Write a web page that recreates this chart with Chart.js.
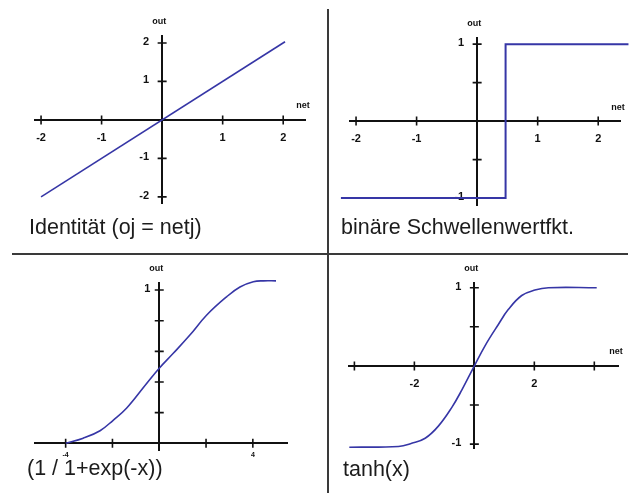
<!DOCTYPE html>
<html>
<head>
<meta charset="utf-8">
<script src="https://cdn.jsdelivr.net/npm/chart.js@4.4.1/dist/chart.umd.min.js"></script>
<style>
  body { margin: 0; background: #fff; }
  #page { position: relative; width: 631px; height: 493px; overflow: hidden; background: #fff; }
  canvas { position: absolute; }
  .caption {
    position: absolute;
    font-family: "Liberation Sans", Arial, sans-serif;
    font-size: 21.5px;
    line-height: 1;
    color: #1c1c1c;
    white-space: nowrap;
  }
  .rule { position: absolute; background: #3a3a3a; }
</style>
</head>
<body>
<div id="page">
  <canvas id="c1" width="328" height="253" style="left:0;top:0"></canvas>
  <canvas id="c2" width="303" height="253" style="left:328px;top:0"></canvas>
  <canvas id="c3" width="328" height="240" style="left:0;top:253px"></canvas>
  <canvas id="c4" width="303" height="240" style="left:328px;top:253px"></canvas>

  <div class="rule" style="left:327px;top:9px;width:2px;height:484px"></div>
  <div class="rule" style="left:12px;top:253px;width:616px;height:2px"></div>

  <div class="caption" style="left:29px;top:217px">Identität (oj = netj)</div>
  <div class="caption" style="left:341px;top:217px">binäre Schwellenwertfkt.</div>
  <div class="caption" style="left:27px;top:458px">(1 / 1+exp(-x))</div>
  <div class="caption" style="left:343px;top:459px">tanh(x)</div>
</div>

<script>
// Identity: out = net
const identNet = [-2, 2.03];
const identOut = [-2, 2.03];

// binary threshold
const stepNet = [-2.25, 0.47, 0.47, 2.5];
const stepOut = [-1, -1, 1, 1];

// logistic curve
const sigNet = [-3.99, -3.25, -2.53, -1.97, -1.4, -0.54, 0, 0.6, 1.31, 2.03, 2.88, 3.45, 4.02, 4.45, 4.99];
const sigOut = [0, 0.033, 0.082, 0.15, 0.228, 0.39, 0.49, 0.587, 0.706, 0.837, 0.956, 1.02, 1.054, 1.06, 1.06];

// tanh curve
const tanhNet = [-4.17, -2.53, -2.09, -1.64, -1.2, -0.75, -0.42, 0, 0.36, 0.8, 1.13, 1.58, 2.02, 2.47, 4.08];
const tanhOut = [-1.04, -1.03, -0.99, -0.925, -0.77, -0.53, -0.31, 0, 0.26, 0.53, 0.72, 0.9, 0.97, 1.0, 1.0];

// tick positions and which of them get a number
const ticks1X = [-2, -1, 0, 1, 2];
const labels1X = [-2, -1, 1, 2];
const ticks1Y = [-2, -1, 1, 2];
const labels1Y = [2, 1, -1, -2];

const ticks2X = [-2, -1, 0, 1, 2];
const labels2X = [-2, -1, 1, 2];
const ticks2Y = [-1, -0.5, 0.5, 1];
const labels2Y = [1, -1];

const ticks3X = [-4, -2, 0, 2, 4];
const labels3X = [-4, 4];
const ticks3Y = [0.2, 0.4, 0.6, 0.8, 1];
const labels3Y = [1];

const ticks4X = [-4, -2, 0, 2, 4];
const labels4X = [-2, 2];
const ticks4Y = [-1, -0.5, 0.5, 1];
const labels4Y = [1, -1];

const FONT = '"Liberation Sans", Arial, sans-serif';
const LINE_BLUE = '#3636a6';
const INK = '#111';

function toPoints(xs, ys) {
    return xs.map((x, i) => ({ x: x, y: ys[i] }));
}

// cross shaped tick marks, y-axis numbers and the "out" / "net" axis names
const axisMarks = {
    id: 'axisMarks',
    beforeDatasetsDraw(chart, args, opts) {
        const ctx = chart.ctx;
        const xs = chart.scales.x;
        const ys = chart.scales.y;
        const ox = xs.getPixelForValue(0);
        const oy = ys.getPixelForValue(0);

        ctx.save();
        ctx.strokeStyle = INK;
        ctx.lineWidth = 1.6;
        ctx.beginPath();
        opts.xTicks.forEach(v => {
            if (v === 0) return;
            const px = xs.getPixelForValue(v);
            ctx.moveTo(px, oy - 4.5);
            ctx.lineTo(px, oy + 4.5);
        });
        opts.yTicks.forEach(v => {
            const py = ys.getPixelForValue(v);
            ctx.moveTo(ox - 4.5, py);
            ctx.lineTo(ox + 4.5, py);
        });
        ctx.stroke();

        ctx.fillStyle = INK;
        ctx.font = 'bold 11px ' + FONT;
        ctx.textAlign = 'right';
        ctx.textBaseline = 'middle';
        opts.yLabels.forEach(v => {
            ctx.fillText(String(v), ox - opts.yGap, ys.getPixelForValue(v) - 1);
        });

        ctx.font = 'bold 9px ' + FONT;
        ctx.textAlign = 'center';
        ctx.fillText('out', ox - 3, chart.chartArea.top - 14);
        if (opts.net) {
            ctx.fillText('net', chart.chartArea.right - 2, oy - 14);
        }
        ctx.restore();
    }
};

function makePanel(id, p) {
    const ctx = document.getElementById(id).getContext('2d');
    return new Chart(ctx, {
        type: 'scatter',
        data: {
            datasets: [{
                data: toPoints(p.net, p.out),
                showLine: true,
                borderColor: LINE_BLUE,
                borderWidth: p.lineWidth,
                pointRadius: 0,
                tension: p.smooth ? 0.4 : 0,
                clip: false
            }]
        },
        options: {
            responsive: false,
            animation: false,
            devicePixelRatio: 1,
            layout: { padding: p.padding },
            plugins: {
                legend: { display: false },
                tooltip: { enabled: false },
                axisMarks: {
                    xTicks: p.xTicks,
                    yTicks: p.yTicks,
                    yLabels: p.yLabels,
                    yGap: p.yGap,
                    net: p.net_label
                }
            },
            scales: {
                x: {
                    type: 'linear',
                    min: p.xMin,
                    max: p.xMax,
                    position: { y: 0 },
                    grid: { display: false, drawTicks: false },
                    border: { display: true, color: INK, width: 2 },
                    afterBuildTicks: s => { s.ticks = p.xTicks.map(v => ({ value: v })); },
                    ticks: {
                        autoSkip: false,
                        maxRotation: 0,
                        padding: p.xPad,
                        color: INK,
                        font: { family: FONT, size: p.xFont, weight: 'bold' },
                        callback: v => p.xLabels.includes(v) ? String(v) : ''
                    }
                },
                y: {
                    type: 'linear',
                    min: p.yMin,
                    max: p.yMax,
                    position: { x: 0 },
                    grid: { display: false, drawTicks: false },
                    border: { display: true, color: INK, width: 2 },
                    ticks: { display: false }
                }
            }
        },
        plugins: [axisMarks]
    });
}

makePanel('c1', {
    net: identNet, out: identOut, lineWidth: 1.6, smooth: false,
    padding: { left: 35, right: 23, top: 36, bottom: 50 },
    xMin: -2.1, xMax: 2.36, yMin: -2.16, yMax: 2.18,
    xTicks: ticks1X, xLabels: labels1X, yTicks: ticks1Y, yLabels: labels1Y,
    xFont: 11, xPad: 11, yGap: 13, net_label: true
});

makePanel('c2', {
    net: stepNet, out: stepOut, lineWidth: 2, smooth: false,
    padding: { left: 22, right: 11, top: 38, bottom: 48 },
    xMin: -2.1, xMax: 2.36, yMin: -1.09, yMax: 1.08,
    xTicks: ticks2X, xLabels: labels2X, yTicks: ticks2Y, yLabels: labels2Y,
    xFont: 11, xPad: 11, yGap: 13, net_label: true
});

makePanel('c3', {
    net: sigNet, out: sigOut, lineWidth: 1.6, smooth: true,
    padding: { left: 35, right: 41, top: 30, bottom: 43 },
    xMin: -5.31, xMax: 5.46, yMin: -0.044, yMax: 1.046,
    xTicks: ticks3X, xLabels: labels3X, yTicks: ticks3Y, yLabels: labels3Y,
    xFont: 7, xPad: 8, yGap: 9, net_label: false
});

makePanel('c4', {
    net: tanhNet, out: tanhOut, lineWidth: 1.6, smooth: true,
    padding: { left: 21, right: 13, top: 30, bottom: 45 },
    xMin: -4.18, xMax: 4.79, yMin: -1.05, yMax: 1.06,
    xTicks: ticks4X, xLabels: labels4X, yTicks: ticks4Y, yLabels: labels4Y,
    xFont: 11, xPad: 11, yGap: 13, net_label: true
});
</script>
</body>
</html>
